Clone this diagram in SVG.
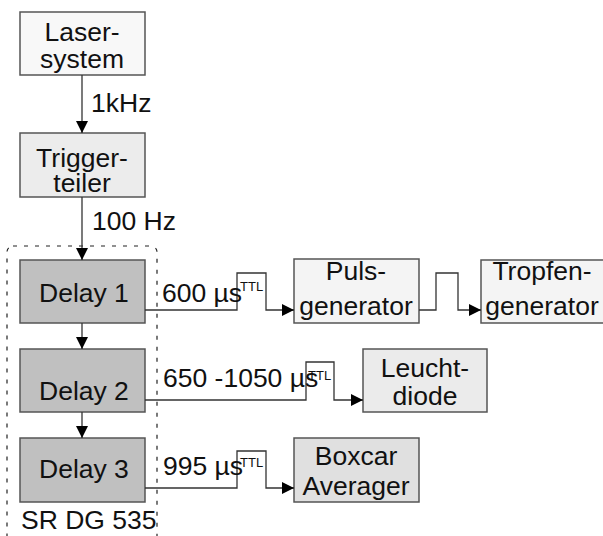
<svg xmlns="http://www.w3.org/2000/svg" width="603" height="536" viewBox="0 0 603 536">
<defs>
<marker id="ah" viewBox="0 0 10 10" refX="10" refY="5" markerWidth="12" markerHeight="12" markerUnits="userSpaceOnUse" orient="auto">
<path d="M0,0 L10,5 L0,10 z" fill="#000"/>
</marker>
<style>
.box{stroke:#555;stroke-width:1.5}
.t{font-family:"Liberation Sans",Arial,sans-serif;font-size:26.5px;fill:#111}
.m{text-anchor:middle}
.s{font-family:"Liberation Sans",Arial,sans-serif;font-size:13px;fill:#111}
.c{fill:none;stroke:#333;stroke-width:1.3}
.a{marker-end:url(#ah)}
</style>
</defs>
<rect width="603" height="536" fill="#fff"/>
<rect id="dg535" x="7" y="246" width="150" height="300" rx="6" fill="none" stroke="#222" stroke-width="1.2" stroke-dasharray="4 7"/>
<g id="laser"><rect class="box" x="20" y="12" width="125" height="63" fill="#f8f8f8"/><text class="t m" x="82" y="41">Laser-</text><text class="t m" x="82" y="68">system</text></g>
<g id="trigger"><rect class="box" x="20" y="133" width="125" height="64" fill="#ececec"/><text class="t m" x="82" y="167">Trigger-</text><text class="t m" x="82" y="192">teiler</text></g>
<g id="delay1"><rect class="box" x="20" y="260" width="125" height="63" fill="#c0c0c0"/><text class="t" x="39" y="302">Delay 1</text></g>
<g id="delay2"><rect class="box" x="20" y="349" width="125" height="63" fill="#c0c0c0"/><text class="t" x="39" y="400">Delay 2</text></g>
<g id="delay3"><rect class="box" x="20" y="438" width="125" height="64" fill="#c0c0c0"/><text class="t" x="39" y="478">Delay 3</text></g>
<text class="t" x="21" y="529">SR DG 535</text>
<g id="puls"><rect class="box" x="294" y="259" width="125" height="64" fill="#f4f4f4"/><text class="t m" x="356" y="280">Puls-</text><text class="t m" x="356" y="315">generator</text></g>
<g id="tropfen"><rect class="box" x="481" y="260" width="135" height="63" fill="#f4f4f4"/><text class="t m" x="542" y="280">Tropfen-</text><text class="t m" x="542" y="315">generator</text></g>
<g id="leucht"><rect class="box" x="363" y="349" width="124" height="63" fill="#ebebeb"/><text class="t m" x="425" y="377">Leucht-</text><text class="t m" x="425" y="405">diode</text></g>
<g id="boxcar"><rect class="box" x="294" y="438" width="125" height="64" fill="#e0e0e0"/><text class="t m" x="356" y="465">Boxcar</text><text class="t m" x="356" y="495">Averager</text></g>
<g id="connectors">
<path class="c a" d="M82,75 V133"/>
<path class="c a" d="M82,197 V260"/>
<path class="c a" d="M82,323 V349"/>
<path class="c a" d="M82,412 V438"/>
<path class="c a" d="M145,310 H237 V273 H266 V310 H294"/>
<path class="c a" d="M419,310 H436 V273 H458 V310 H481"/>
<path class="c a" d="M145,400 H306 V362 H334 V400 H363"/>
<path class="c a" d="M145,488 H237 V451 H266 V488 H294"/>
</g>
<text class="t" x="91" y="112">1kHz</text>
<text class="t" x="92" y="230">100 Hz</text>
<text class="t" x="162" y="302">600 µs</text>
<text class="s" x="240" y="291">TTL</text>
<text class="t" x="163" y="387">650 -1050 µs</text>
<text class="s" x="308" y="380">TTL</text>
<text class="t" x="163" y="475">995 µs</text>
<text class="s" x="240" y="467">TTL</text>
</svg>
